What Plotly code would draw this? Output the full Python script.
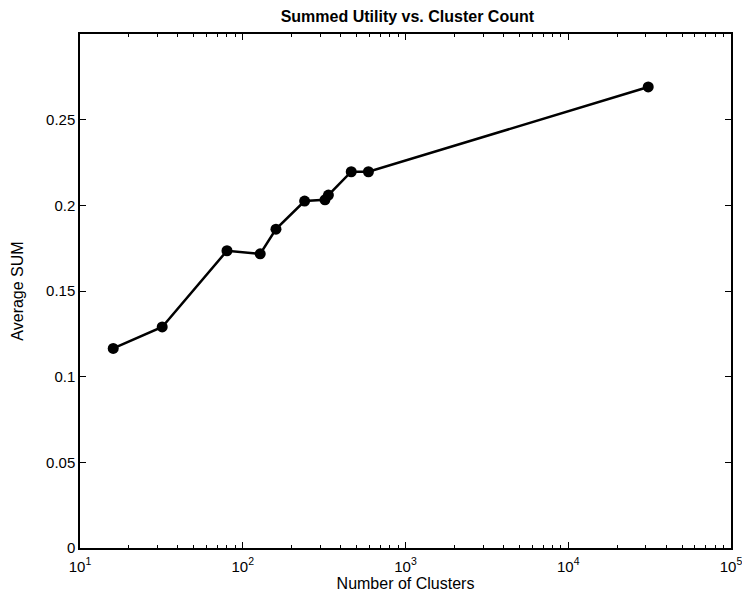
import plotly.graph_objects as go

clusters = [16, 32, 80, 128, 160, 240, 320, 336, 464, 592, 31000]
avg_sum = [0.1165, 0.129, 0.1735, 0.1717, 0.1861, 0.2025, 0.2032, 0.2060, 0.2196, 0.2196, 0.2691]

x_tickvals = [10, 100, 1000, 10000, 100000]
x_ticktext = ["10<sup>1</sup>", "10<sup>2</sup>", "10<sup>3</sup>", "10<sup>4</sup>", "10<sup>5</sup>"]
x_minor_vals = [k * 10 ** d for d in range(1, 5) for k in range(2, 10)]
y_tickvals = [0, 0.05, 0.1, 0.15, 0.2, 0.25]
y_ticktext = ["0", "0.05", "0.1", "0.15", "0.2", "0.25"]

font_family = "Liberation Sans, Arial, Helvetica, sans-serif"

fig = go.Figure()
fig.add_trace(go.Scatter(
    x=clusters, y=avg_sum, mode="lines+markers",
    line=dict(color="black", width=2.5),
    marker=dict(color="black", size=11, symbol="circle"),
    showlegend=False,
))

fig.update_layout(
    width=742, height=593,
    margin=dict(l=80, r=10.5, t=34, b=45),
    paper_bgcolor="white", plot_bgcolor="white",
    font=dict(family=font_family, size=15, color="black"),
    title=dict(text="<b>Summed Utility vs. Cluster Count</b>", x=0.549, xanchor="center",
               y=1 - 16 / 593, yanchor="middle", font=dict(size=16, family=font_family)),
    xaxis=dict(
        type="log", range=[1, 5], automargin=False,
        tickvals=x_tickvals, ticktext=x_ticktext,
        ticks="inside", ticklen=6, tickwidth=1, tickcolor="black",
        minor=dict(tickmode="array", tickvals=x_minor_vals, ticks="inside", ticklen=3,
                   tickcolor="black", showgrid=False),
        showline=True, linecolor="black", linewidth=1.5, mirror="allticks",
        showgrid=False, zeroline=False,
        ticklabeloverflow="allow", ticklabelstandoff=4,
        title=dict(text="Number of Clusters", standoff=2, font=dict(size=16)),
        tickfont=dict(size=15),
    ),
    yaxis=dict(
        range=[0, 0.3], automargin=False,
        tickvals=y_tickvals, ticktext=y_ticktext,
        ticks="inside", ticklen=6, tickwidth=1, tickcolor="black",
        showline=True, linecolor="black", linewidth=1.5, mirror="allticks",
        showgrid=False, zeroline=False,
        title=dict(text="Average SUM", standoff=18, font=dict(size=16)),
        tickfont=dict(size=15),
    ),
)

fig.write_html("out.html")
